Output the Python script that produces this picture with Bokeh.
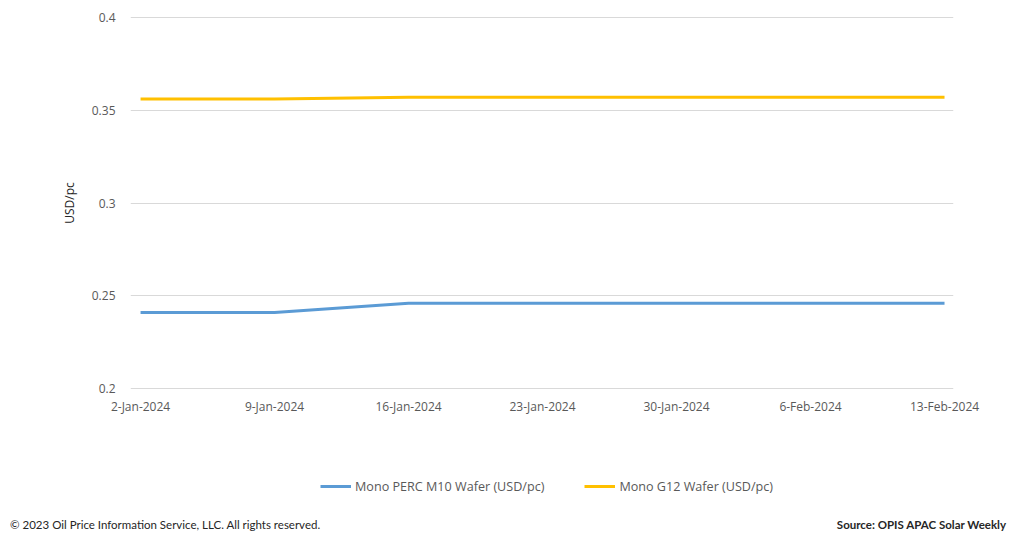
from bokeh.plotting import figure
from bokeh.layouts import column
from bokeh.models import Range1d, FixedTicker, NumeralTickFormatter, Legend, LegendItem, Div
from bokeh.embed import file_html
from bokeh.resources import INLINE

dates = ["2-Jan-2024", "9-Jan-2024", "16-Jan-2024", "23-Jan-2024",
         "30-Jan-2024", "6-Feb-2024", "13-Feb-2024"]
m10_wafer = [0.241, 0.241, 0.246, 0.246, 0.246, 0.246, 0.246]
g12_wafer = [0.356, 0.356, 0.357, 0.357, 0.357, 0.357, 0.357]
y_ticks = [0.2, 0.25, 0.3, 0.35, 0.4]
series_names = ["Mono PERC M10 Wafer (USD/pc)", "Mono G12 Wafer (USD/pc)"]
colors = ["#5B9BD5", "#FFC000"]
copyright_note = "© 2023 Oil Price Information Service, LLC. All rights reserved."
source_note = "Source: OPIS APAC Solar Weekly"

xs = list(range(len(dates)))

FONT = "Open Sans"
GREY = "#595959"
PX = 0.2 / 371  # one pixel in data units

# ---- main chart ----
p = figure(width=1024, height=430, output_backend="svg", toolbar_location=None,
           x_range=Range1d(-0.075, len(dates) - 1 + 0.067),
           y_range=Range1d(0.2 - PX, 0.4 + PX),
           min_border_left=130, min_border_right=71,
           min_border_top=16, min_border_bottom=41)
p.outline_line_color = None
p.border_fill_color = "white"

p.line(xs, m10_wafer, line_color=colors[0], line_width=3)
p.line(xs, g12_wafer, line_color=colors[1], line_width=3)

p.xaxis.ticker = FixedTicker(ticks=xs)
p.xaxis.major_label_overrides = {i: d for i, d in enumerate(dates)}
p.yaxis.ticker = FixedTicker(ticks=y_ticks)
p.yaxis.formatter = NumeralTickFormatter(format="0.[00]")
for ax in (p.xaxis[0], p.yaxis[0]):
    ax.axis_line_color = None
    ax.major_tick_line_color = None
    ax.minor_tick_line_color = None
    ax.major_label_text_font = FONT
    ax.major_label_text_font_size = "12px"
    ax.major_label_text_color = GREY
p.xaxis.major_label_standoff = 2
p.yaxis.major_label_standoff = 9
p.yaxis.axis_label = "USD/pc"
p.yaxis.axis_label_text_font = FONT
p.yaxis.axis_label_text_font_size = "12px"
p.yaxis.axis_label_text_font_style = "normal"
p.yaxis.axis_label_text_color = "#262626"
p.yaxis.axis_label_standoff = 11

p.xgrid.grid_line_color = None
p.ygrid.grid_line_color = "#D9D9D9"
p.ygrid.grid_line_width = 1

# ---- legend strip (series drawn outside its visible range; only the legend shows) ----
f = figure(width=1024, height=78, output_backend="svg", toolbar_location=None,
           x_axis_type=None, y_axis_type=None,
           x_range=Range1d(100, 101), y_range=Range1d(100, 101),
           min_border=0, min_border_left=0, min_border_right=0,
           min_border_top=0, min_border_bottom=0)
f.outline_line_color = None
f.grid.grid_line_color = None
f.border_fill_color = "white"

lr1 = f.line(xs, m10_wafer, line_color=colors[0], line_width=3)
lr2 = f.line(xs, g12_wafer, line_color=colors[1], line_width=3)

legend = Legend(items=[LegendItem(label=series_names[0], renderers=[lr1]),
                       LegendItem(label=series_names[1], renderers=[lr2])],
                location=(190, 12), orientation="horizontal",
                padding=0, margin=0, spacing=40, glyph_width=31, glyph_height=20,
                label_height=20, label_standoff=4,
                label_text_font=FONT, label_text_font_size="12.6px",
                label_text_color=GREY, border_line_color=None,
                background_fill_alpha=0)
f.add_layout(legend, "center")

# ---- footer ----
footer = Div(
    text=('<div style="position:relative;width:1024px;height:30px;'
          'font-family:Lato,sans-serif;font-size:11.5px;color:#262626;line-height:16px;">'
          f'<span style="position:absolute;left:10px;top:9px;white-space:nowrap;">{copyright_note}</span>'
          f'<span style="position:absolute;right:18px;top:9px;white-space:nowrap;font-weight:bold;">{source_note}</span>'
          '</div>'),
    width=1024, height=30, margin=0)

layout = column(p, f, footer, spacing=0)
open("out.html", "w").write(file_html(layout, INLINE))
